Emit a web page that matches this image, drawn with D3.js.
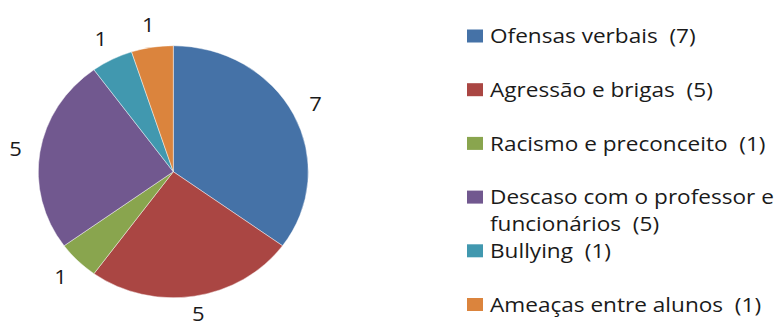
<!DOCTYPE html>
<html>
<head>
<meta charset="utf-8">
<script src="https://cdn.jsdelivr.net/npm/d3@7"></script>
<style>
  html, body { margin: 0; padding: 0; background: #fff; }
  svg { display: block; }
  text { white-space: pre; }
</style>
</head>
<body>
<svg id="chart" width="777" height="327"></svg>
<script>
const categories = [
  "Ofensas verbais",
  "Agressão e brigas",
  "Racismo e preconceito",
  "Descaso com o professor e funcionários",
  "Bullying",
  "Ameaças entre alunos"
];
const values = [7, 5, 1, 5, 1, 1];
const legendLines = [
  ["Ofensas verbais  (7)"],
  ["Agressão e brigas  (5)"],
  ["Racismo e preconceito  (1)"],
  ["Descaso com o professor e", "funcionários  (5)"],
  ["Bullying  (1)"],
  ["Ameaças entre alunos  (1)"]
];
const colors = ["#4572A7", "#AA4643", "#89A54E", "#71588F", "#4198AF", "#DB843D"];

const svg = d3.select("#chart");
const cx = 173.3, cy = 171.7, r = 126, sx = 135 / 126, tsx = 1.13;
const font = "'Open Sans', sans-serif";

const pie = d3.pie().sort(null).value(d => d)(values);
const arc = d3.arc().innerRadius(0).outerRadius(r);
const labelArc = d3.arc().innerRadius(149).outerRadius(149);

const g = svg.append("g").attr("transform", `translate(${cx},${cy}) scale(${sx},1)`);
g.selectAll("path").data(pie).join("path")
  .attr("d", arc)
  .attr("fill", (d, i) => colors[i])
  .attr("stroke", "#fff")
  .attr("stroke-width", 0.6)
  .attr("stroke-opacity", 0.7);

svg.append("g").selectAll("text").data(pie).join("text")
  .attr("transform", d => `translate(${cx + labelArc.centroid(d)[0] * sx},${Math.min(cy + labelArc.centroid(d)[1], 314)}) scale(${sx},1)`)
  .attr("dy", "0.36em")
  .attr("text-anchor", "middle")
  .attr("font-family", font)
  .attr("font-size", 20.5)
  .attr("fill", "#1a1a1a")
  .text(d => d.data);

const lg = svg.append("g");
const y0 = 36, step = 53.7, lineH = 27;
legendLines.forEach((lines, i) => {
  const yc = y0 + i * step;
  lg.append("rect")
    .attr("x", 467).attr("y", yc - 6.5)
    .attr("width", 16).attr("height", 13)
    .attr("fill", colors[i]);
  lines.forEach((t, j) => {
    lg.append("text")
      .attr("transform", `translate(490,${yc + j * lineH}) scale(${tsx},1)`)
      .attr("dy", "0.36em")
      .attr("font-family", font)
      .attr("font-size", 20)
      .attr("fill", "#1a1a1a")
      .text(t);
  });
});
</script>
</body>
</html>
